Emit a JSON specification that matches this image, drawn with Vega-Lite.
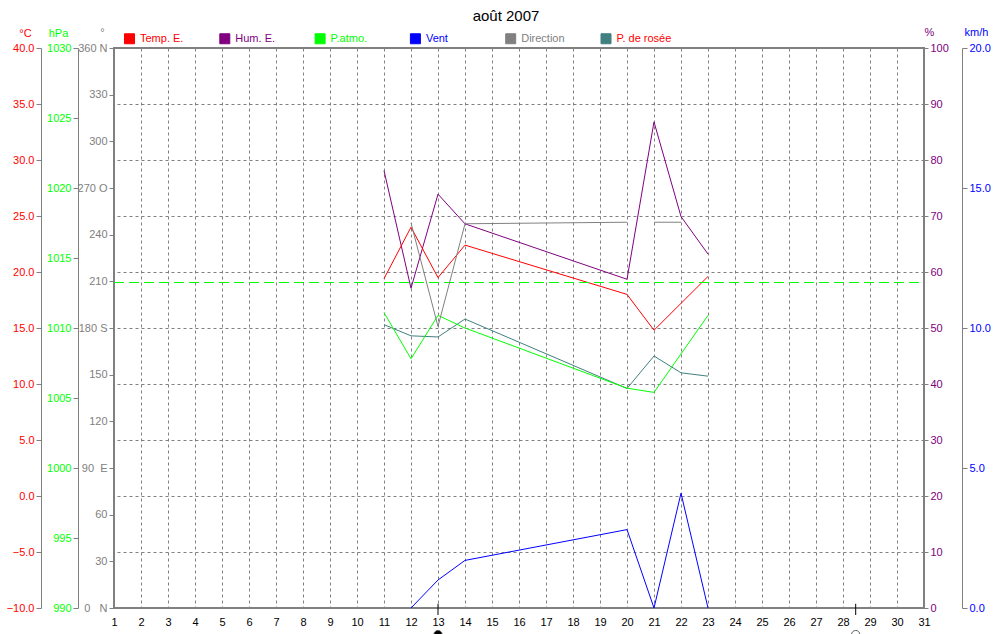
{
  "$schema": "https://vega.github.io/schema/vega-lite/v6.json",
  "width": 810,
  "height": 560,
  "autosize": "none",
  "padding": {"left": 114, "top": 48, "right": 83, "bottom": 26},
  "background": "white",
  "title": {"text": "août 2007", "fontSize": 15, "fontWeight": "normal", "color": "black", "anchor": "middle", "frame": "group", "dx": -13, "offset": 2},
  "datasets": {
    "meteo": [
      {"day": 11, "temp": 19.4, "hum": 78.1, "press": 1011.1, "dew": 15.3, "wind": null},
      {"day": 12, "temp": 24.0, "hum": 57.1, "press": 1007.8, "dew": 14.3, "wind": 0},
      {"day": 13, "temp": 19.5, "hum": 73.9, "press": 1010.9, "dew": 14.2, "wind": 1.0},
      {"day": 14, "temp": 22.4, "hum": 68.6, "press": 1010.0, "dew": 15.8, "wind": 1.7},
      {"day": 20, "temp": 18.0, "hum": 58.7, "press": 1005.7, "dew": 9.6, "wind": 2.8},
      {"day": 21, "temp": 14.8, "hum": 86.8, "press": 1005.4, "dew": 12.5, "wind": 0},
      {"day": 22, "temp": null, "hum": 69.9, "press": null, "dew": 11.0, "wind": 4.1},
      {"day": 23, "temp": 19.6, "hum": 63.2, "press": 1010.9, "dew": 10.7, "wind": 0}
    ],
    "direction": [
      {"day": 12, "dir": 247.5, "seg": 1},
      {"day": 13, "dir": 181, "seg": 1},
      {"day": 14, "dir": 247, "seg": 1},
      {"day": 20, "dir": 248, "seg": 1},
      {"day": 21, "dir": 248, "seg": 2},
      {"day": 22, "dir": 248, "seg": 2}
    ],
    "reference": [{"press": 1013.25}],
    "moon": [
      {"day": 13, "phase": "new"},
      {"day": 28.47, "phase": "full"}
    ]
  },
  "layer": [
    {
      "data": {"name": "meteo"},
      "transform": [{"filter": "isValid(datum.hum)"}],
      "mark": {"type": "line", "strokeWidth": 1},
      "encoding": {
        "x": {"field": "day", "type": "quantitative",
          "scale": {"domain": [1, 31], "nice": false, "zero": false},
          "axis": {"values": [1,2,3,4,5,6,7,8,9,10,11,12,13,14,15,16,17,18,19,20,21,22,23,24,25,26,27,28,29,30,31],
            "tickCount": 31,
            "grid": true, "ticks": false, "domain": false, "labelColor": "black", "labelPadding": 8,
            "title": null, "labelFlush": false, "labelOverlap": false, "format": "d"}},
        "y": {"field": "hum", "type": "quantitative",
          "scale": {"domain": [0, 100], "nice": false, "zero": false},
          "axis": {"orient": "right", "offset": 0, "values": [0,10,20,30,40,50,60,70,80,90,100], "tickCount": 11,
            "grid": true, "labelColor": "#800080", "tickSize": 4, "labelPadding": 2, "domain": false,
            "title": "%", "titleColor": "#800080", "titleAngle": 0, "titleAlign": "center", "titleBaseline": "middle",
            "titleX": 5, "titleY": -16}},
        "color": {"datum": "Hum. E.", "type": "nominal",
          "scale": {"domain": ["Temp. E.", "Hum. E.", "P.atmo.", "Vent", "Direction", "P. de rosée"],
            "range": ["#ff0000", "#800080", "#00ff00", "#0000ff", "#808080", "#408080"]},
          "legend": {"orient": "none", "legendX": 10, "legendY": -15, "direction": "horizontal", "title": null,
            "symbolType": "square", "symbolSize": 100, "labelFontSize": 11, "labelOffset": 5,
            "gridAlign": "all", "columnPadding": 22.3, "padding": 0,
            "encode": {
              "symbols": {"update": {"fill": {"scale": "color", "field": "value"}, "stroke": {"value": "black"}, "strokeWidth": {"value": 1}, "opacity": {"value": 1}}},
              "labels": {"update": {"fill": {"signal": "datum.value === 'Temp. E.' ? '#ff0000' : datum.value === 'Hum. E.' ? '#800080' : datum.value === 'P.atmo.' ? '#00ff00' : datum.value === 'Vent' ? '#0000ff' : datum.value === 'Direction' ? '#808080' : '#ff0000'"}}}
            }}}
      }
    },
    {
      "data": {"name": "meteo"},
      "transform": [{"filter": "isValid(datum.temp)"}],
      "mark": {"type": "line", "strokeWidth": 1},
      "encoding": {
        "x": {"field": "day", "type": "quantitative"},
        "y": {"field": "temp", "type": "quantitative",
          "scale": {"domain": [-10, 40], "nice": false, "zero": false},
          "axis": {"orient": "left", "offset": 73, "values": [-10,-5,0,5,10,15,20,25,30,35,40], "tickCount": 11, "format": ".1f",
            "grid": false, "labelColor": "#ff0000", "tickSize": 5, "labelPadding": 2,
            "title": "°C", "titleColor": "#ff0000", "titleAngle": 0, "titleAlign": "center", "titleBaseline": "middle",
            "titleX": -16, "titleY": -15}},
        "color": {"datum": "Temp. E.", "type": "nominal"}
      }
    },
    {
      "data": {"name": "meteo"},
      "transform": [{"filter": "isValid(datum.dew)"}],
      "mark": {"type": "line", "strokeWidth": 1},
      "encoding": {
        "x": {"field": "day", "type": "quantitative"},
        "y": {"field": "dew", "type": "quantitative",
          "scale": {"domain": [-10, 40], "nice": false, "zero": false}, "axis": null},
        "color": {"datum": "P. de rosée", "type": "nominal"}
      }
    },
    {
      "data": {"name": "meteo"},
      "transform": [{"filter": "isValid(datum.press)"}],
      "mark": {"type": "line", "strokeWidth": 1},
      "encoding": {
        "x": {"field": "day", "type": "quantitative"},
        "y": {"field": "press", "type": "quantitative",
          "scale": {"domain": [990, 1030], "nice": false, "zero": false},
          "axis": {"orient": "left", "offset": 36, "values": [990,995,1000,1005,1010,1015,1020,1025,1030], "tickCount": 9, "format": "d",
            "grid": false, "labelColor": "#00ff00", "tickSize": 5, "labelPadding": 2,
            "title": "hPa", "titleColor": "#00ff00", "titleAngle": 0, "titleAlign": "center", "titleBaseline": "middle",
            "titleX": -20, "titleY": -15}},
        "color": {"datum": "P.atmo.", "type": "nominal"}
      }
    },
    {
      "data": {"name": "reference"},
      "mark": {"type": "rule", "color": "#00ff00", "strokeWidth": 1, "strokeDash": [10, 5]},
      "encoding": {
        "x": {"datum": 1, "type": "quantitative"},
        "x2": {"datum": 31},
        "y": {"field": "press", "type": "quantitative",
          "scale": {"domain": [990, 1030], "nice": false, "zero": false}, "axis": null}
      }
    },
    {
      "data": {"name": "direction"},
      "mark": {"type": "line", "strokeWidth": 1},
      "encoding": {
        "x": {"field": "day", "type": "quantitative"},
        "y": {"field": "dir", "type": "quantitative",
          "scale": {"domain": [0, 360], "nice": false, "zero": false},
          "axis": {"orient": "left", "offset": 0, "values": [0,30,60,90,120,150,180,210,240,270,300,330,360], "tickCount": 13,
            "grid": false, "labelColor": "#808080", "tickSize": 5, "labelPadding": 2, "domain": false,
            "labelExpr": "datum.value == 0 ? '0\u00a0\u00a0\u00a0N' : datum.value == 90 ? '90\u00a0\u00a0E' : datum.value == 180 ? '180 S' : datum.value == 270 ? '270 O' : datum.value == 360 ? '360 N' : datum.label",
            "title": "°", "titleColor": "#808080", "titleAngle": 0, "titleAlign": "center", "titleBaseline": "middle",
            "titleX": -12, "titleY": -16}},
        "detail": {"field": "seg", "type": "nominal"},
        "color": {"datum": "Direction", "type": "nominal"}
      }
    },
    {
      "data": {"name": "meteo"},
      "transform": [{"filter": "isValid(datum.wind)"}],
      "mark": {"type": "line", "strokeWidth": 1},
      "encoding": {
        "x": {"field": "day", "type": "quantitative"},
        "y": {"field": "wind", "type": "quantitative",
          "scale": {"domain": [0, 20], "nice": false, "zero": false},
          "axis": {"orient": "right", "offset": 38, "values": [0,5,10,15,20], "tickCount": 5, "format": ".1f",
            "grid": false, "labelColor": "#0000ff", "tickSize": 5, "labelPadding": 2,
            "title": "km/h", "titleColor": "#0000ff", "titleAngle": 0, "titleAlign": "center", "titleBaseline": "middle",
            "titleX": 14, "titleY": -16}},
        "color": {"datum": "Vent", "type": "nominal"}
      }
    },
    {
      "data": {"name": "moon"},
      "mark": {"type": "rule", "color": "black", "strokeWidth": 1, "clip": false},
      "encoding": {
        "x": {"field": "day", "type": "quantitative"},
        "y": {"datum": -0.25, "type": "quantitative", "scale": {"domain": [0, 20], "nice": false, "zero": false}, "axis": null},
        "y2": {"datum": 0.15}
      }
    },
    {
      "data": {"name": "moon"},
      "mark": {"type": "point", "filled": false, "size": 70, "clip": false, "stroke": "#606060", "strokeWidth": 1, "opacity": 1},
      "encoding": {
        "x": {"field": "day", "type": "quantitative"},
        "y": {"datum": -0.95, "type": "quantitative", "scale": {"domain": [0, 20], "nice": false, "zero": false}, "axis": null},
        "fill": {"condition": {"test": "datum.phase === 'new'", "value": "black"}, "value": "white"}
      }
    }
  ],
  "resolve": {"scale": {"y": "independent", "color": "shared"}, "axis": {"y": "independent"}},
  "config": {
    "font": "Liberation Sans",
    "view": {"stroke": "#808080", "strokeWidth": 2},
    "axis": {"labelFontSize": 11, "titleFontSize": 11, "titleFontWeight": "normal", "labelFont": "Liberation Sans", "titleFont": "Liberation Sans",
      "domainColor": "#808080", "tickColor": "#808080", "gridColor": "#808080", "gridDash": [3, 3], "gridOpacity": 1, "gridWidth": 1},
    "axisX": {"labelOverlap": false, "labelFlush": false, "labelPadding": 8, "tickCount": 31},
    "legend": {"labelFont": "Liberation Sans"}
  }
}
